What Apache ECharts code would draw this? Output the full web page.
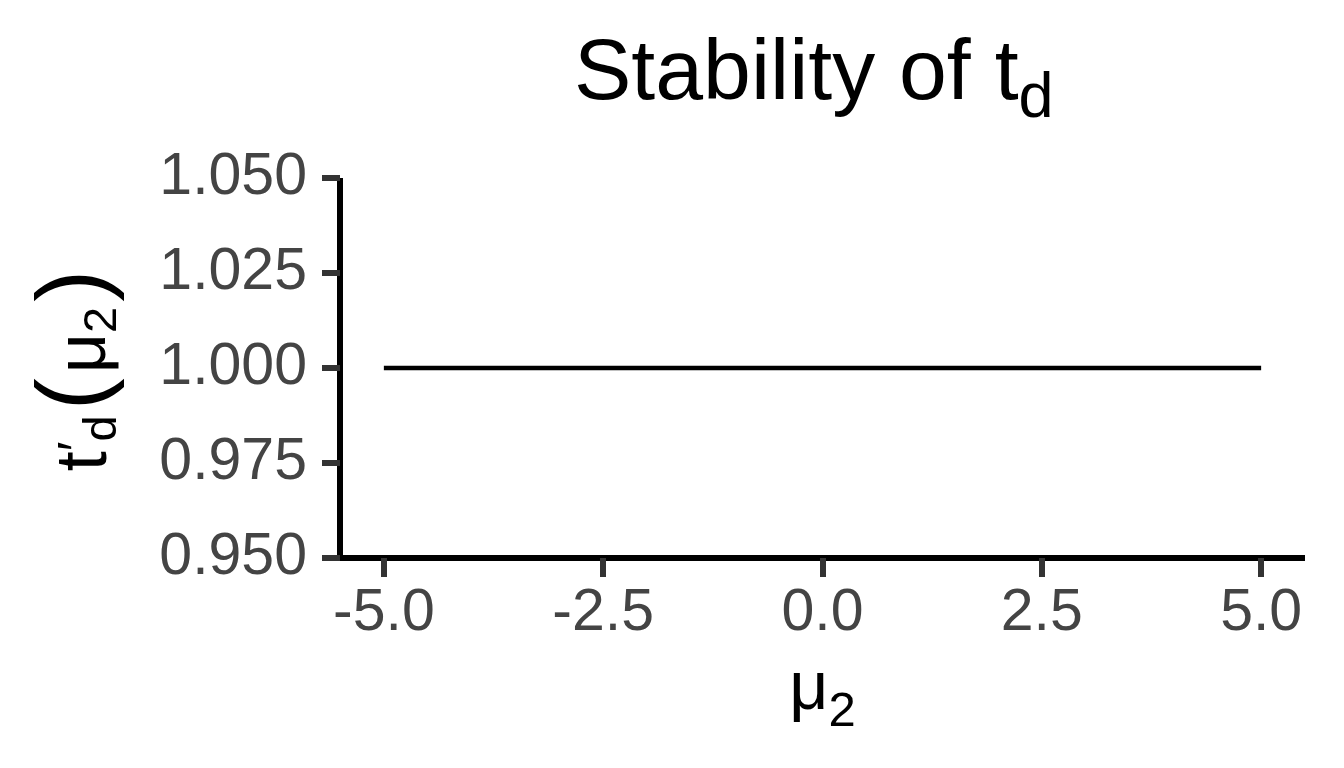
<!DOCTYPE html>
<html>
<head>
<meta charset="utf-8">
<script src="https://cdn.jsdelivr.net/npm/echarts@6/dist/echarts.min.js"></script>
<style>
html,body{margin:0;padding:0;background:#fff;}
#c{width:1344px;height:768px;}
</style>
</head>
<body>
<div id="c"></div>
<script>
// Data
var mu2 = [-5, 5];
var tdPrime = [1, 1];
var xTicks = [-5, -2.5, 0, 2.5, 5];
var yTicks = [0.950, 0.975, 1.000, 1.025, 1.050];

var FONT = '"Liberation Sans", Arial, Helvetica, sans-serif';
var chart = echarts.init(document.getElementById('c'), null, {renderer: 'canvas'});

function tok(size, shift, lh, hpad) {
  // shift > 0 moves the token down, < 0 up
  var h = hpad || 0;
  var pad = shift >= 0 ? [2 * shift, h, 0, h] : [0, h, -2 * shift, h];
  return {fontSize: size, fontFamily: FONT, fontWeight: 'normal', color: '#000', lineHeight: lh, verticalAlign: 'middle', padding: pad};
}

var option = {
  animation: false,
  backgroundColor: '#fff',
  title: {
    text: '{m|Stability of t}{s|d}',
    left: 574,
    top: 25,
    padding: 0,
    textStyle: {
      fontWeight: 'normal',
      rich: {
        m: tok(86, 0, 100),
        s: tok(63, 25, 100)
      }
    }
  },
  grid: {left: 340, top: 178, width: 965, height: 380, containLabel: false},
  xAxis: {
    type: 'value',
    min: -5.5,
    max: 5.5,
    name: '{m|μ}{s|2}',
    nameLocation: 'middle',
    nameGap: 68,
    nameTextStyle: {
      rich: {
        m: tok(68, 0, 80),
        s: tok(49, 22, 80)
      }
    },
    axisLine: {show: true, onZero: false, lineStyle: {color: '#000', width: 6, cap: 'butt'}},
    axisTick: {show: true, length: 19, customValues: xTicks, lineStyle: {color: '#333', width: 6}},
    axisLabel: {
      customValues: xTicks,
      margin: 26,
      color: '#444',
      fontSize: 59,
      fontFamily: FONT,
      formatter: function (v) { return v.toFixed(1); }
    },
    splitLine: {show: false}
  },
  yAxis: {
    type: 'value',
    min: 0.95,
    max: 1.05,
    interval: 0.025,
    name: '{t|t}{p|′}{d|d}{lp|(}{m|μ}{s|2}{rp|)}',
    nameLocation: 'middle',
    nameRotate: 90,
    nameGap: 204,
    nameTextStyle: {
      rich: {
        t: tok(72, 0, 100),
        p: tok(52, -6, 100),
        d: tok(47, 17, 100),
        lp: tok(96, -8, 100, 5),
        m: tok(70, 0, 100),
        s: tok(47, 17, 100),
        rp: tok(96, -8, 100, 5)
      }
    },
    axisLine: {show: true, onZero: false, lineStyle: {color: '#000', width: 6, cap: 'butt'}},
    axisTick: {show: true, length: 18, lineStyle: {color: '#333', width: 6}},
    axisLabel: {
      margin: 33,
      color: '#444',
      fontSize: 59,
      fontFamily: FONT,
      formatter: function (v) { return v.toFixed(3); }
    },
    splitLine: {show: false}
  },
  series: [{
    type: 'line',
    data: mu2.map(function (x, i) { return [x, tdPrime[i]]; }),
    showSymbol: false,
    symbol: 'none',
    lineStyle: {color: '#000', width: 4.5, cap: 'butt'},
    silent: true
  }]
};
chart.setOption(option);
</script>
</body>
</html>
